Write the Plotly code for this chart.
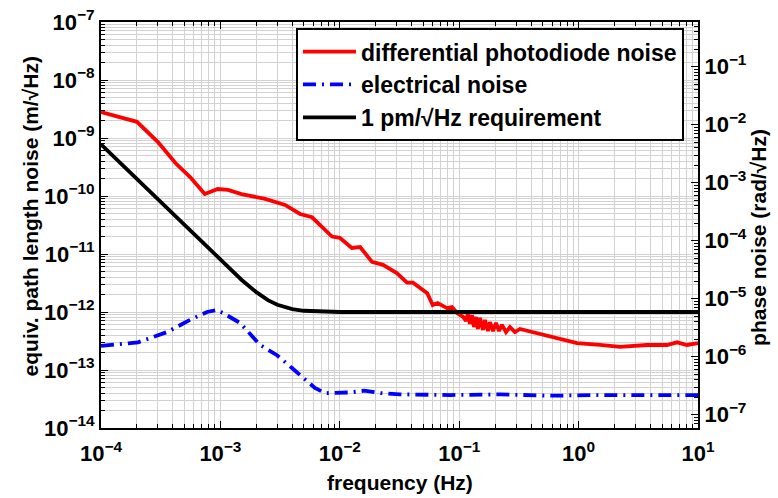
import math
import plotly.graph_objects as go

# ---------------- data ----------------
red_f = [1.0e-4, 1.4e-4, 2.0e-4, 3.0e-4, 4.2e-4, 5.6e-4, 7.4e-4, 9.5e-4, 1.16e-3, 1.5e-3,
         1.85e-3, 2.37e-3, 3.48e-3, 4.65e-3, 5.85e-3, 6.8e-3, 8.6e-3, 1.0e-2, 1.26e-2, 1.48e-2,
         1.86e-2, 2.30e-2, 3.0e-2, 3.66e-2, 4.1e-2, 5.4e-2, 6.0e-2, 6.6e-2, 7.9e-2, 8.7e-2,
         9.6e-2, 1.08e-1, 0.1140, 0.1186, 0.1230, 0.1279, 0.1330, 0.1384, 0.1435, 0.1493,
         0.1581, 0.1644, 0.1742, 0.1811, 0.1919, 0.2032, 0.2153, 0.2280, 0.2466, 0.2661,
         0.2931, 0.3228, 0.415, 0.611, 0.970, 1.51, 2.22, 3.74, 5.50, 6.67, 8.09, 10.0]
red_v = [2.8e-9, 2.35e-9, 1.9e-9, 8.5e-10, 3.7e-10, 2.1e-10, 1.08e-10, 1.32e-10, 1.27e-10, 1.08e-10,
         1.0e-10, 8.9e-11, 7.0e-11, 4.9e-11, 4.3e-11, 3.2e-11, 2.0e-11, 1.9e-11, 1.27e-11, 1.32e-11,
         7.3e-12, 6.5e-12, 4.7e-12, 3.2e-12, 3.2e-12, 2.1e-12, 1.32e-12, 1.43e-12, 1.17e-12, 1.22e-12,
         9.6e-13, 8.2e-13, 7.0e-13, 9.6e-13, 6.2e-13, 8.9e-13, 5.5e-13, 8.2e-13, 5.1e-13, 7.9e-13,
         4.9e-13, 7.3e-13, 4.7e-13, 6.7e-13, 4.7e-13, 6.5e-13, 4.7e-13, 6.0e-13, 4.5e-13, 5.5e-13,
         4.5e-13, 5.1e-13, 4.5e-13, 3.7e-13, 2.9e-13, 2.7e-13, 2.5e-13, 2.7e-13, 2.7e-13, 3.0e-13,
         2.7e-13, 2.9e-13]

blue_f = [1.0e-4, 2.04e-4, 3.57e-4, 5.56e-4, 7.73e-4, 9.38e-4, 1.05e-3, 1.46e-3, 2.15e-3, 2.98e-3,
          3.98e-3, 6.19e-3, 7.52e-3, 1.0e-2, 1.22e-2, 1.6e-2, 2.2e-2, 3.19e-2, 8.4e-2, 0.22,
          0.575, 1.51, 10.0]
blue_v = [2.6e-13, 3.0e-13, 4.5e-13, 7.3e-13, 1.0e-12, 1.08e-12, 9.6e-13, 6.5e-13, 2.7e-13, 1.8e-13,
          1.08e-13, 4.9e-14, 4.0e-14, 4.0e-14, 4.1e-14, 4.4e-14, 4.0e-14, 3.8e-14, 3.7e-14, 3.8e-14,
          3.6e-14, 3.7e-14, 3.7e-14]

black_f = [1e-4, 1.5e-4, 2e-4, 3e-4, 5e-4, 7e-4, 1e-3, 1.5e-3, 2e-3, 2.5e-3, 3e-3, 4e-3, 5e-3,
           7e-3, 1e-2, 1e-1, 1.0, 10.0]
black_v = [7.8e-10, 3.5e-10, 1.96e-10, 8.7e-11, 3.1e-11, 1.6e-11, 7.9e-12, 3.6e-12, 2.2e-12, 1.6e-12,
           1.33e-12, 1.12e-12, 1.05e-12, 1.01e-12, 1.0e-12, 1.0e-12, 1.0e-12, 1.0e-12]

series_names = ["differential photodiode noise", "electrical noise", "1 pm/\u221aHz requirement"]

x_tick_vals = [1e-4, 1e-3, 1e-2, 1e-1, 1e0, 1e1]
x_tick_text = ["10<sup>\u22124</sup>", "10<sup>\u22123</sup>", "10<sup>\u22122</sup>",
               "10<sup>\u22121</sup>", "10<sup>0</sup>", "10<sup>1</sup>"]
y_tick_vals = [1e-14, 1e-13, 1e-12, 1e-11, 1e-10, 1e-9, 1e-8, 1e-7]
y_tick_text = ["10<sup>\u2212%d</sup>" % k for k in range(14, 6, -1)]
y2_tick_vals = [1e-7, 1e-6, 1e-5, 1e-4, 1e-3, 1e-2, 1e-1]
y2_tick_text = ["10<sup>\u2212%d</sup>" % k for k in range(7, 0, -1)]

WAVELENGTH = 1.064e-6
PHASE_PER_M = 2 * math.pi / WAVELENGTH

# ---------------- styling ----------------
FONT = "Liberation Sans"
GRID = "#d2d2d2"
TICKFONT = dict(family=FONT, size=22, color="black", weight="bold")
TITLEFONT = dict(family=FONT, size=21, color="black", weight="bold")

def minor_vals(lo, hi):
    out = []
    for e in range(lo, hi):
        for k in range(2, 10):
            out.append(k * 10.0 ** e)
    return out

fig = go.Figure()
fig.add_trace(go.Scatter(x=red_f, y=red_v, mode="lines", name=series_names[0],
                         line=dict(color="#ff0000", width=3.8)))
fig.add_trace(go.Scatter(x=blue_f, y=blue_v, mode="lines", name=series_names[1],
                         line=dict(color="#0000ff", width=3.8, dash="13px,6px,2px,6px")))
fig.add_trace(go.Scatter(x=black_f, y=black_v, mode="lines", name=series_names[2],
                         line=dict(color="black", width=3.8)))
# invisible trace to activate the phase axis
fig.add_trace(go.Scatter(x=black_f, y=[v * PHASE_PER_M for v in black_v], yaxis="y2",
                         mode="lines", opacity=0, showlegend=False, hoverinfo="skip",
                         line=dict(color="black", width=1)))

fig.update_layout(
    width=778, height=498,
    margin=dict(l=101, r=80, t=22, b=70, autoexpand=False),
    paper_bgcolor="white", plot_bgcolor="white",
    font=dict(family=FONT, color="black"),
    showlegend=True,
    legend=dict(x=0.3266, y=0.985, xanchor="left", yanchor="top",
                bgcolor="white", bordercolor="black", borderwidth=2,
                font=dict(family=FONT, size=23, color="black", weight="bold"),
                tracegroupgap=0, itemwidth=53),
    xaxis=dict(type="log", range=[-4, 1], showline=True, linecolor="black", linewidth=2,
               mirror="ticks", ticks="inside", ticklen=7, tickwidth=1, tickcolor="black",
               showgrid=True, gridcolor=GRID, gridwidth=1, zeroline=False, automargin=False,
               ticklabeloverflow="allow", ticklabelstandoff=5,
               tickmode="array", tickvals=x_tick_vals, ticktext=x_tick_text, tickfont=TICKFONT,
               minor=dict(tickmode="array", tickvals=minor_vals(-4, 1), ticks="inside",
                          ticklen=4, tickcolor="black", showgrid=True, gridcolor=GRID, gridwidth=1)),
    yaxis=dict(type="log", range=[-14, -7], showline=True, linecolor="black", linewidth=2,
               mirror=False, ticks="inside", ticklen=7, tickwidth=1, tickcolor="black",
               showgrid=True, gridcolor=GRID, gridwidth=1, zeroline=False, automargin=False,
               ticklabeloverflow="allow",
               tickmode="array", tickvals=y_tick_vals, ticktext=y_tick_text, tickfont=TICKFONT,
               minor=dict(tickmode="array", tickvals=minor_vals(-14, -7), ticks="inside",
                          ticklen=4, tickcolor="black", showgrid=True, gridcolor=GRID, gridwidth=1)),
    yaxis2=dict(type="log", overlaying="y", side="right", automargin=False,
                range=[math.log10(1e-14 * PHASE_PER_M), math.log10(1e-7 * PHASE_PER_M)],
                showline=True, linecolor="black", linewidth=2, showgrid=False, zeroline=False,
                ticklabeloverflow="allow",
                ticks="inside", ticklen=7, tickwidth=1, tickcolor="black",
                tickmode="array", tickvals=y2_tick_vals, ticktext=y2_tick_text, tickfont=TICKFONT,
                minor=dict(tickmode="array", tickvals=minor_vals(-8, 0), ticks="inside",
                           ticklen=4, tickcolor="black", showgrid=False)),
    annotations=[
        dict(text="frequency (Hz)", xref="paper", yref="paper", x=0.5, y=-0.135,
             xanchor="center", yanchor="middle", showarrow=False, font=TITLEFONT),
        dict(text="equiv. path length noise (m/\u221aHz)", xref="paper", yref="paper",
             x=-0.118, y=0.52, xanchor="center", yanchor="middle", textangle=-90,
             showarrow=False, font=TITLEFONT),
        dict(text="phase noise (rad/\u221aHz)", xref="paper", yref="paper",
             x=1.1, y=0.47, xanchor="center", yanchor="middle", textangle=-90,
             showarrow=False, font=TITLEFONT),
    ],
)

fig.write_html("out.html",
               config={"displayModeBar": False},
               post_script="document.body.style.margin='0';document.body.style.overflow='hidden';")
